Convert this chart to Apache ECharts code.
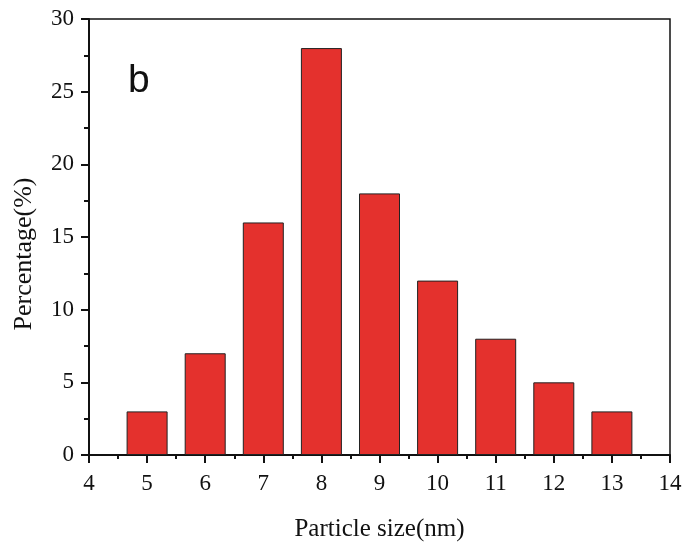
<!DOCTYPE html>
<html>
<head>
<meta charset="utf-8">
<script src="https://cdn.jsdelivr.net/npm/echarts@6/dist/echarts.min.js"></script>
<style>html,body{margin:0;padding:0;background:#fff;}#c{width:686px;height:544px;}</style>
</head>
<body>
<div id="c"></div>
<script>
const sizes = [5, 6, 7, 8, 9, 10, 11, 12, 13];
const percentages = [3, 7, 16, 28, 18, 12, 8, 5, 3];
const xLabelTitle = 'Particle size(nm)';
const yLabelTitle = 'Percentage(%)';
const panelLabel = 'b';

const chart = echarts.init(document.getElementById('c'), null, {renderer: 'canvas'});
const serif = '"Liberation Serif", "Times New Roman", serif';
chart.setOption({
  animation: false,
  backgroundColor: '#ffffff',
  title: {
    text: panelLabel, left: 123, top: 57,
    textStyle: {fontFamily: '"Liberation Sans", Arial, sans-serif', fontSize: 39, fontWeight: 'normal', color: '#111'}
  },
  grid: {left: 89, right: 16, top: 19, bottom: 89, show: true, borderColor: '#111', borderWidth: 1.5, backgroundColor: 'transparent', outerBoundsMode: 'none', containLabel: false},
  xAxis: {
    type: 'value', min: 4, max: 14, interval: 1,
    name: xLabelTitle, nameLocation: 'middle', nameGap: 62,
    nameTextStyle: {fontFamily: serif, fontSize: 25, color: '#111'},
    axisLine: {show: true, onZero: false, lineStyle: {color: '#111', width: 2}},
    axisTick: {show: true, inside: false, length: 8, lineStyle: {color: '#111', width: 2}},
    minorTick: {show: true, splitNumber: 2, length: 4, lineStyle: {color: '#111', width: 2}},
    axisLabel: {fontFamily: serif, fontSize: 23, color: '#111', margin: 17},
    splitLine: {show: false}
  },
  yAxis: {
    type: 'value', min: 0, max: 30, interval: 5,
    name: yLabelTitle, nameLocation: 'middle', nameGap: 52,
    nameTextStyle: {fontFamily: serif, fontSize: 26, color: '#111', padding: [0, 34, 0, 0]},
    axisLine: {show: true, lineStyle: {color: '#111', width: 2}},
    axisTick: {show: true, inside: false, length: 8, lineStyle: {color: '#111', width: 2}},
    minorTick: {show: true, splitNumber: 2, length: 5, lineStyle: {color: '#111', width: 2}},
    axisLabel: {fontFamily: serif, fontSize: 23, color: '#111', margin: 15},
    splitLine: {show: false}
  },
  series: [{
    type: 'bar',
    data: sizes.map((s, i) => [s, percentages[i]]),
    barWidth: 41,
    itemStyle: {color: '#e4312d', borderColor: '#222', borderWidth: 1}
  }]
});
</script>
</body>
</html>
